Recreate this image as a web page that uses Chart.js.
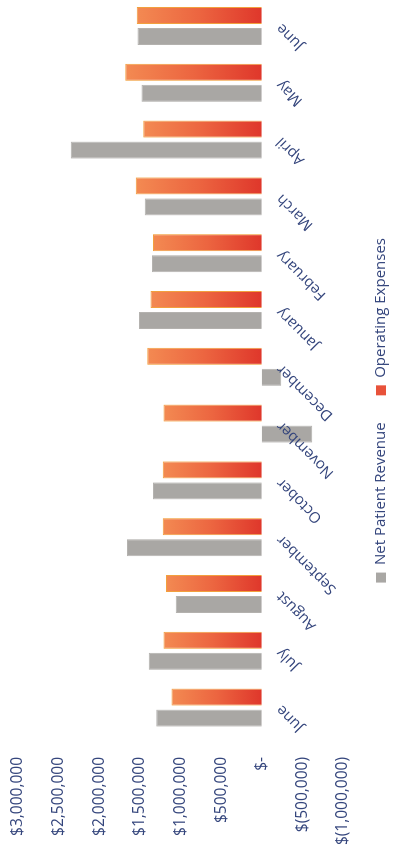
<!DOCTYPE html>
<html><head><meta charset="utf-8">
<script src="https://cdn.jsdelivr.net/npm/chart.js@4/dist/chart.umd.min.js"></script>
<style>
html,body{margin:0;padding:0;width:393px;height:853px;overflow:hidden;background:#fff;}
#wrap{position:absolute;left:0;top:0;width:860px;height:393px;transform-origin:0 0;transform:translateY(853px) rotate(-90deg);}
</style></head><body>
<div id="wrap"><canvas id="c" width="860" height="393"></canvas></div>
<script>
const categories = ['June','July','August','September','October','November','December','January','February','March','April','May','June'];
const netPatientRevenue = [1300000,1390000,1060000,1660000,1340000,-620000,-240000,1510000,1350000,1440000,2350000,1480000,1530000];
const operatingExpenses = [1110000,1210000,1180000,1220000,1220000,1210000,1410000,1370000,1340000,1550000,1460000,1680000,1540000];
const valueTicks = [-1000000,-500000,0,500000,1000000,1500000,2000000,2500000,3000000];
const valueTickLabels = ['$(1,000,000)','$(500,000)','$-','$500,000','$1,000,000','$1,500,000','$2,000,000','$2,500,000','$3,000,000'];

const TEXT = '#34457c';
Chart.defaults.font.family = "'Open Sans', sans-serif";
Chart.defaults.color = TEXT;

function orangeFill(c) {
  const chart = c.chart;
  if (!chart.chartArea || c.type !== 'data') return '#ea5a38';
  const y = chart.scales.y;
  const top = y.getPixelForValue(c.raw);
  const zero = y.getPixelForValue(0);
  if (Math.abs(zero - top) < 1) return '#e23c2d';
  const g = chart.ctx.createLinearGradient(0, top, 0, zero);
  g.addColorStop(0, '#f38a52');
  g.addColorStop(0.5, '#ec6540');
  g.addColorStop(1, '#df372b');
  return g;
}

const legendShift = {
  id: 'legendShift',
  afterLayout: (chart) => { if (chart.legend) chart.legend.left = 30; }
};

new Chart(document.getElementById('c'), {
  type: 'bar',
  data: {
    labels: categories,
    datasets: [
      { label: 'Net Patient Revenue', data: netPatientRevenue, backgroundColor: '#a9a7a4', borderColor: '#b4b2af', borderWidth: 1, categoryPercentage: 0.74, barPercentage: 0.81 },
      { label: 'Operating Expenses', data: operatingExpenses, backgroundColor: orangeFill, borderColor: '#f2a03e', borderWidth: 1, categoryPercentage: 0.74, barPercentage: 0.81 }
    ]
  },
  plugins: [legendShift],
  options: {
    responsive: false,
    animation: false,
    devicePixelRatio: 1,
    layout: { autoPadding: false, padding: { left: 0, right: 4.6, top: 18, bottom: -5.5 } },
    plugins: {
      tooltip: { enabled: false },
      legend: {
        position: 'bottom',
        title: { display: true, text: '', font: { size: 1 }, padding: { top: 0, bottom: 2.3 } },
        labels: {
          boxWidth: 10, boxHeight: 10, padding: 27,
          font: { size: 15 }, color: TEXT,
          generateLabels: (chart) => {
            const items = Chart.defaults.plugins.legend.labels.generateLabels(chart);
            const fills = ['#a9a7a4', '#e8523a'];
            items.forEach((it, i) => { it.fillStyle = fills[i]; it.strokeStyle = fills[i]; it.lineWidth = 0; });
            return items;
          }
        }
      }
    },
    scales: {
      x: {
        type: 'category',
        position: { y: 0 },
        grid: { display: false, drawTicks: false },
        border: { display: false },
        ticks: { z: 1, autoSkip: false, minRotation: 45, maxRotation: 45, padding: 11, font: { size: 15 }, color: TEXT }
      },
      y: {
        position: 'left',
        min: -1000000, max: 3000000,
        grid: { display: false, drawTicks: false },
        border: { display: false },
        afterBuildTicks: (s) => { s.ticks = valueTicks.map(v => ({ value: v })); },
        ticks: {
          padding: 21, font: { size: 15.5 }, color: TEXT,
          callback: (v) => valueTickLabels[valueTicks.indexOf(v)]
        },
        afterFit: (s) => { s.width = 117; s.paddingTop = 10; s.paddingBottom = 10; }
      }
    }
  }
});
</script>
</body></html>
